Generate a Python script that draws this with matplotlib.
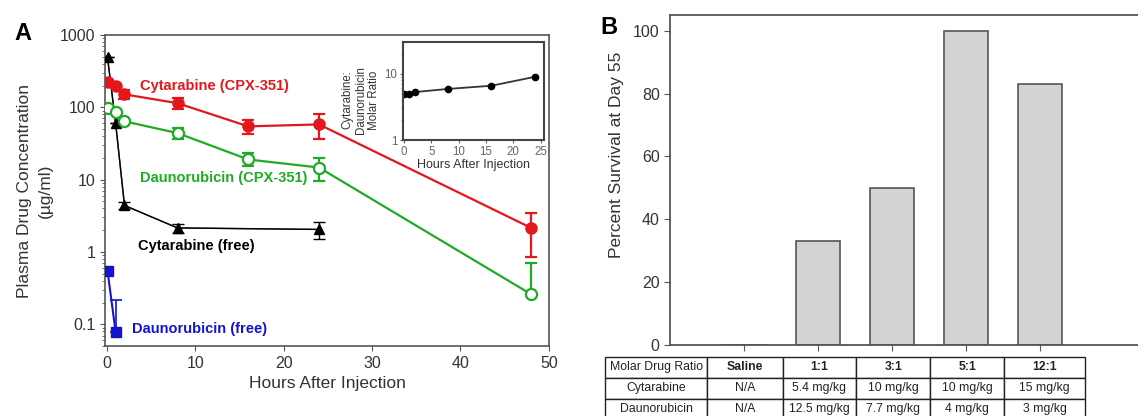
import matplotlib
matplotlib.use("Agg")
import matplotlib.pyplot as plt
import numpy as np

plt.rcParams['font.family'] = ['Liberation Sans', 'DejaVu Sans']

# Panel A: plasma concentration data (ug/ml)
hours = [0.08, 1, 2, 8, 16, 24, 48]
cyt_cpx = [222, 196, 151, 114, 54.5, 58, 2.15]
cyt_cpx_err = [0, 0, 20, 20, 12, 22, 1.3]
dau_cpx = [97, 85, 64, 44, 19, 14.7, 0.26]
dau_cpx_err_lo = [0, 0, 0, 8, 3.5, 5, 0]
dau_cpx_err_hi = [0, 0, 0, 8, 4.5, 5, 0.45]

hours_free_cyt = [0.08, 1, 2, 8, 24]
cyt_free = [490, 60, 4.4, 2.15, 2.05]
cyt_free_err = [0, 0, 0.45, 0.3, 0.55]

hours_free_dau = [0.08, 1]
dau_free = [0.55, 0.078]
dau_free_err_hi = [0, 0.14]

# inset: molar ratio
ratio_hours = [0.08, 1, 2, 8, 16, 24]
ratio = [4.98, 5.0, 5.3, 5.9, 6.6, 9.0]

# Panel B: survival
groups = ['Saline', '1:1', '3:1', '5:1', '12:1']
survival = [0, 33, 50, 100, 83]
cyt_dose = ['N/A', '5.4 mg/kg', '10 mg/kg', '10 mg/kg', '15 mg/kg']
dau_dose = ['N/A', '12.5 mg/kg', '7.7 mg/kg', '4 mg/kg', '3 mg/kg']

red = '#e4171d'
green = '#1fab24'
blue = '#1414cc'
spine_col = '#555555'
txt_col = '#333333'

fig = plt.figure(figsize=(11.38, 4.16), dpi=100)

# ---------------- Panel A ----------------
ax = fig.add_axes([0.0923, 0.168, 0.390, 0.748])
ax.set_yscale('log')
ax.errorbar(hours, cyt_cpx, yerr=cyt_cpx_err, color=red, marker='o', ms=8,
            lw=1.6, capsize=4, elinewidth=1.6, capthick=1.6, zorder=4)
ax.errorbar(hours, dau_cpx, yerr=[dau_cpx_err_lo, dau_cpx_err_hi], color=green,
            marker='o', ms=8, mfc='white', mew=1.6, lw=1.6, capsize=4,
            elinewidth=1.6, capthick=1.6, zorder=4)
ax.errorbar(hours_free_cyt, cyt_free, yerr=cyt_free_err, color='black', marker='^',
            ms=7, lw=1.0, capsize=4, elinewidth=1.0, capthick=1.0,
            zorder=3)
ax.plot(hours_free_cyt, cyt_free, color='#555555', lw=1.0, zorder=3)
ax.errorbar(hours_free_dau, dau_free, yerr=[[0, 0], dau_free_err_hi], color=blue,
            marker='s', ms=7, lw=1.5, capsize=4, elinewidth=1.2, capthick=1.2,
            zorder=4)

ax.set_xlim(-0.2, 50)
ax.set_ylim(0.05, 1000)
ax.set_xticks([0, 10, 20, 30, 40, 50])
ax.set_yticks([0.1, 1, 10, 100, 1000])
ax.set_yticklabels(['0.1', '1', '10', '100', '1000'])
ax.tick_params(direction='out', labelsize=11.5, colors=spine_col,
               labelcolor=txt_col, top=False, right=False)
ax.tick_params(which='minor', direction='out', length=2.5, colors=spine_col,
               right=False)
for s in ax.spines.values():
    s.set_color(spine_col)
    s.set_linewidth(1.2)
ax.set_xlabel('Hours After Injection', fontsize=12.5, color=txt_col)
ax.set_ylabel('Plasma Drug Concentration\n(µg/ml)', fontsize=12.5,
              color=txt_col, linespacing=1.45)
ax.yaxis.set_label_coords(-0.118, 0.5)

ax.text(3.7, 196, 'Cytarabine (CPX-351)', color=red, fontsize=10.5,
        fontweight='bold', va='center')
ax.text(3.7, 10.7, 'Daunorubicin (CPX-351)', color=green, fontsize=10.5,
        fontweight='bold', va='center')
ax.text(3.5, 1.2, 'Cytarabine (free)', color='black', fontsize=10.5,
        fontweight='bold', va='center')
ax.text(2.8, 0.085, 'Daunorubicin (free)', color=blue, fontsize=10.5,
        fontweight='bold', va='center')

fig.text(0.013, 0.92, 'A', fontsize=17, fontweight='bold', va='center')

# inset
ins = fig.add_axes([0.354, 0.663, 0.124, 0.236])
ins.set_yscale('log')
ins.plot(ratio_hours, ratio, color='#333333', marker='o', ms=4.5, lw=1.3,
         mfc='black', mec='black')
ins.set_xlim(-0.2, 25.6)
ins.set_ylim(1, 30)
ins.set_xticks([0, 5, 10, 15, 20, 25])
ins.set_yticks([1, 10])
ins.set_yticklabels(['1', '10'])
ins.tick_params(direction='out', labelsize=8.3, length=2.5, pad=1.5,
                colors='#666666', labelcolor='#666666')
ins.tick_params(which='minor', direction='out', length=1.5, colors='#888888')
for s in ins.spines.values():
    s.set_color('#444444')
    s.set_linewidth(1.5)
ins.set_xlabel('Hours After Injection', fontsize=9, color=txt_col, labelpad=1)
ins.set_ylabel('Cytarabine:\nDaunorubicin\nMolar Ratio', fontsize=8.3,
               color=txt_col, linespacing=1.1)
ins.yaxis.set_label_coords(-0.165, 0.41)

# ---------------- Panel B ----------------
bx = fig.add_axes([0.5888, 0.1707, 0.4288, 0.7933])
xpos = np.arange(len(groups))
bx.bar(xpos, survival, width=0.6, color='#d3d3d3', edgecolor='#555555',
       linewidth=1.2)
bx.set_xlim(-1, 5.6)
bx.set_ylim(0, 105)
bx.set_yticks([0, 20, 40, 60, 80, 100])
bx.set_xticks(xpos)
bx.set_xticklabels([])
bx.tick_params(direction='out', labelsize=11.5, colors=spine_col,
               labelcolor=txt_col, length=4)
bx.spines['right'].set_visible(False)
for s in bx.spines.values():
    s.set_color(spine_col)
    s.set_linewidth(1.3)
bx.set_ylabel('Percent Survival at Day 55', fontsize=12.5, color=txt_col)
bx.yaxis.set_label_coords(-0.095, 0.576)

fig.text(0.528, 0.935, 'B', fontsize=17, fontweight='bold', va='center')

# dosing table under the bars
cells = [['Molar Drug Ratio'] + groups,
         ['Cytarabine'] + cyt_dose,
         ['Daunorubicin'] + dau_dose]
widths = np.array([101.7, 75.6, 73.7, 74, 74, 81])
widths = widths / widths.sum()
tab = bx.table(cellText=cells, cellLoc='center', colWidths=list(widths),
               bbox=[-0.133, -0.227, 0.984, 0.191])
tab.auto_set_font_size(False)
for (r, c), cell in tab.get_celld().items():
    cell.set_linewidth(1.0)
    cell.set_edgecolor('#222222')
    cell.get_text().set_fontsize(8.8)
    cell.get_text().set_color('#222222')
    if r == 0 and c > 0:
        cell.get_text().set_fontweight('bold')
    cell.set_clip_on(False)

fig.savefig('out.png', dpi=100)
